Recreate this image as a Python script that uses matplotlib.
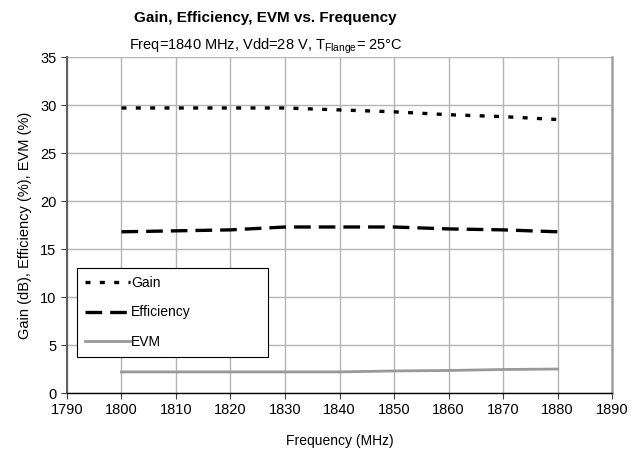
import matplotlib
matplotlib.use("Agg")
import matplotlib.pyplot as plt

plt.rcParams['font.family'] = ['Liberation Sans', 'DejaVu Sans']

freq = [1800, 1810, 1820, 1830, 1840, 1850, 1860, 1870, 1880]
gain = [29.7, 29.7, 29.7, 29.7, 29.5, 29.3, 29.0, 28.8, 28.5]
efficiency = [16.8, 16.9, 17.0, 17.3, 17.3, 17.3, 17.1, 17.0, 16.8]
evm = [2.2, 2.2, 2.2, 2.2, 2.2, 2.3, 2.35, 2.45, 2.5]

xticks = list(range(1790, 1891, 10))
yticks = list(range(0, 36, 5))


def main():
    fig = plt.figure(figsize=(6.41, 4.57), dpi=100)
    ax = fig.add_axes([0.1045, 0.140, 0.8503, 0.735])

    ax.plot(freq, gain, color="black", lw=2.4, dashes=(1.5, 2.8), label="Gain")
    ax.plot(freq, efficiency, color="black", lw=2.4, dashes=(5.0, 2.4), label="Efficiency")
    ax.plot(freq, evm, color="#999999", lw=2.0, label="EVM")

    ax.set_xlim(1790, 1890)
    ax.set_ylim(0, 35)
    ax.set_xticks(xticks)
    ax.set_yticks(yticks)
    ax.grid(True, color="#b4b4b4", lw=1.0)
    ax.set_axisbelow(True)

    ax.spines['top'].set_visible(False)
    ax.spines['left'].set_color("#606060")
    ax.spines['left'].set_linewidth(1.5)
    ax.spines['right'].set_color("#a0a0a0")
    ax.spines['right'].set_linewidth(1.8)
    ax.spines['bottom'].set_color("black")
    ax.spines['bottom'].set_linewidth(1.0)
    ax.tick_params(axis='both', direction='out', length=4, labelsize=10.5,
                   color="#404040")

    ax.set_xlabel("Frequency (MHz)", fontsize=10, labelpad=12)
    ax.set_ylabel("Gain (dB), Efficiency (%), EVM (%)", fontsize=10.5, labelpad=6)

    fig.text(0.414, 0.960, "Gain, Efficiency, EVM vs. Frequency", ha="center",
             va="center", fontsize=11, fontweight="bold")
    fig.text(0.414, 0.898, r"Freq=1840 MHz, Vdd=28 V, T$_{\mathregular{Flange}}$= 25°C",
             ha="center", va="center", fontsize=10.5)

    leg = ax.legend(loc="lower left", bbox_to_anchor=(0.018, 0.107, 0.35, 0.289),
                    mode="expand", fancybox=False, edgecolor="black",
                    framealpha=1, fontsize=10, handlelength=3.2,
                    handletextpad=0.1, labelspacing=1.1, borderpad=0.6,
                    borderaxespad=0)
    leg.get_frame().set_linewidth(0.8)

    fig.savefig("out.png", dpi=100)


if __name__ == "__main__":
    main()
